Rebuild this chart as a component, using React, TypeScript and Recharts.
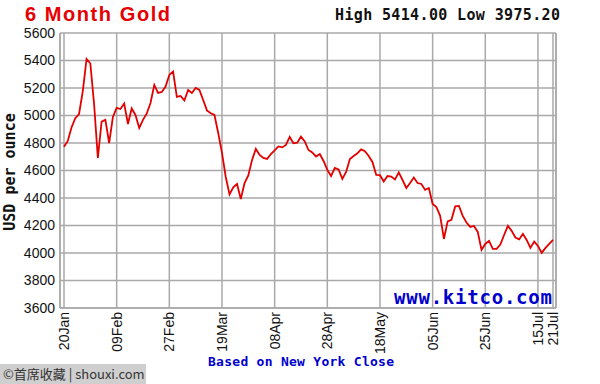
import React from 'react';
import { LineChart, Line, XAxis, YAxis, CartesianGrid } from 'recharts';

// Daily gold close (USD/oz), one value per trading day, 20Jan → 21Jul
const prices: number[] = [
  4773, 4815, 4913, 4981, 5011, 5178, 5411, 5378, 5084, 4691,
  4955, 4968, 4800, 4989, 5055, 5047, 5087, 4938, 5051, 5004,
  4909, 4968, 5015, 5091, 5222, 5164, 5171, 5211, 5295, 5320,
  5135, 5142, 5109, 5186, 5164, 5200, 5186, 5113, 5037, 5016,
  5004, 4873, 4728, 4553, 4426, 4477, 4502, 4393, 4509, 4564,
  4677, 4757, 4713, 4691, 4684, 4720, 4746, 4775, 4768, 4786,
  4844, 4798, 4802, 4846, 4811, 4749, 4731, 4702, 4720, 4669,
  4604, 4560, 4619, 4608, 4539, 4589, 4684, 4706, 4725, 4753,
  4740, 4706, 4662, 4568, 4566, 4520, 4560, 4556, 4535, 4586,
  4531, 4473, 4509, 4549, 4509, 4502, 4459, 4473, 4357, 4335,
  4270, 4102, 4230, 4241, 4339, 4342, 4270, 4222, 4190, 4197,
  4153, 4022, 4066, 4088, 4030, 4030, 4062, 4131, 4197, 4161,
  4113, 4099, 4139, 4095, 4037, 4083, 4051, 4001, 4037, 4066,
  4095,
];

// Trading-day index of each date tick and its label
const tickDays: number[] = [0, 14, 28, 42, 56, 70, 84, 98, 112, 126, 130];
const tickLabels: string[] = ['20Jan', '09Feb', '27Feb', '19Mar', '08Apr', '28Apr', '18May', '05Jun', '25Jun', '15Jul', '21Jul'];
const yTicks: number[] = [3600, 3800, 4000, 4200, 4400, 4600, 4800, 5000, 5200, 5400, 5600];

const titleText = '6 Month Gold';
const highLowText = 'High 5414.00 Low 3975.20';
const yAxisTitle = 'USD per ounce';
const siteText = 'www.kitco.com';
const footnoteText = 'Based on New York Close';
const watermarkText = '©首席收藏 | shouxi.com';

const data = prices.map((p, i) => ({ day: i, price: p }));

const MONO = '"DejaVu Sans Mono", monospace';
const SANS = 'Arial, "Liberation Sans", sans-serif';

const DateTick = (props: any) => {
  const { x, y, payload } = props;
  const idx = tickDays.indexOf(payload.value);
  const label = idx >= 0 ? tickLabels[idx] : '';
  return (
    <text
      x={x}
      y={y}
      transform={`rotate(-90 ${x} ${y})`}
      textAnchor="end"
      dy="0.36em"
      fontSize={14}
      fontFamily={SANS}
      fill="#111"
    >
      {label}
    </text>
  );
};

export default function App() {
  return (
    <div style={{ position: 'absolute', left: 0, top: 0, width: 600, height: 384, background: '#fff' }}>
      <LineChart
        width={600}
        height={384}
        data={data}
        margin={{ top: 33, right: 0, bottom: 0, left: 0 }}
      >
        <CartesianGrid stroke="#a9a9a9" strokeWidth={1.5} />
        <XAxis
          dataKey="day"
          type="number"
          domain={[0, 130]}
          ticks={tickDays}
          interval={0}
          padding={{ left: 4, right: 3 }}
          height={76}
          tickLine={false}
          tickSize={4}
          tickMargin={0}
          axisLine={{ stroke: '#a9a9a9', strokeWidth: 1.5 }}
          tick={<DateTick />}
        />
        <YAxis
          type="number"
          domain={[3600, 5600]}
          ticks={yTicks}
          interval={0}
          width={60}
          tickLine={false}
          tickSize={3}
          tickMargin={2}
          axisLine={{ stroke: '#a9a9a9', strokeWidth: 1.5 }}
          tick={{ fontSize: 14, fill: '#111', fontFamily: SANS }}
        />
        <YAxis
          yAxisId="right"
          orientation="right"
          type="number"
          domain={[3600, 5600]}
          ticks={yTicks}
          interval={0}
          width={44}
          tickLine={false}
          tickSize={5}
          tickMargin={3}
          axisLine={{ stroke: '#a9a9a9', strokeWidth: 1.5 }}
          tick={{ fontSize: 14, fill: '#111', fontFamily: SANS }}
        />
        <Line
          type="linear"
          dataKey="price"
          stroke="#e30000"
          strokeWidth={1.8}
          dot={false}
          isAnimationActive={false}
        />
      </LineChart>
      <svg
        width={600}
        height={384}
        style={{ position: 'absolute', left: 0, top: 0, pointerEvents: 'none' }}
      >
        <text x={25} y={21} fontSize={20} fontWeight="bold" fontFamily={SANS} fill="#e60000" textLength={145}>
          {titleText}
        </text>
        <text x={335} y={20} fontSize={15} fontWeight="bold" fontFamily={MONO} fill="#111" textLength={225}>
          {highLowText}
        </text>
        <text
          x={15}
          y={172}
          transform="rotate(-90 15 172)"
          textAnchor="middle"
          fontSize={15}
          fontWeight="bold"
          fontFamily={MONO}
          fill="#111"
        >
          {yAxisTitle}
        </text>
        <text x={394} y={304} fontSize={19} fontWeight="bold" fontFamily={MONO} fill="#0000cc" textLength={158}>
          {siteText}
        </text>
        <text x={208} y={366} fontSize={13} fontWeight="bold" fontFamily={MONO} fill="#0000cc" textLength={186}>
          {footnoteText}
        </text>
        <rect x={0} y={364} width={146} height={20} fill="#cfcfcf" />
        <text x={3} y={379} fontSize={13} fontFamily='"Noto Sans CJK SC", "Noto Sans", sans-serif' fill="#333">
          {watermarkText}
        </text>
      </svg>
    </div>
  );
}
